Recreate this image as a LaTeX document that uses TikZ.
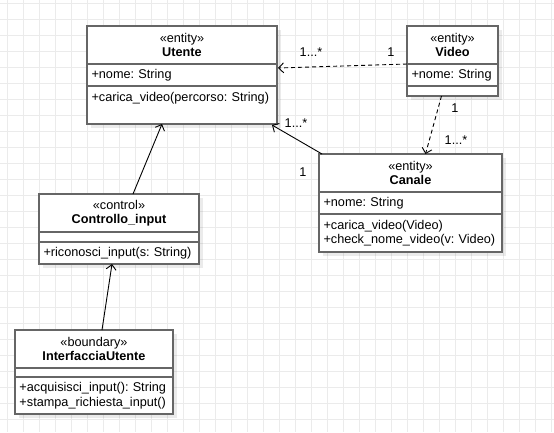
\documentclass[tikz,border=0pt]{standalone}
\usepackage{fontspec}
\setmainfont{Liberation Sans}
\frenchspacing
\usetikzlibrary{
    arrows.meta,
    calc,
    positioning,
    shadows
}
\definecolor{boxgrey}{HTML}{666666}
\definecolor{gridgrey}{HTML}{EBEBEB}
\tikzset{
    every picture/.style = {
        > = {Straight Barb[length = 5pt, width = 10pt]},
        x = 1pt,
        y = -1pt
    },
    boxshadow/.style = {
        drop shadow = {shadow xshift = 4pt, shadow yshift = -4pt, fill = black, opacity = 0.08}
    },
    classhead/.style = {
        draw = boxgrey,
        line width = 1.5pt,
        fill = white,
        inner sep = 0pt,
        outer sep = 0pt,
        minimum width = #1,
        minimum height = 38pt,
        align = center,
        boxshadow
    },
    classpart/.style = {
        draw = boxgrey,
        line width = 1.5pt,
        fill = white,
        inner xsep = 4.5pt,
        inner ysep = 0pt,
        outer sep = 0pt,
        text width = #1,
        align = left,
        boxshadow
    },
    assoc/.style = {->, line width = 0.9pt},
    depend/.style = {->, line width = 0.9pt, dash pattern = on 4pt off 3pt},
    mult/.style = {inner sep = 0pt}
}

\begin{document}
\begin{tikzpicture}[node font = {\fontsize{12.7}{14.5}\selectfont}]
    \fill[white] (0, 0) rectangle (554, 432);
    \useasboundingbox (0, 0) rectangle (554, 432);
    \draw[gridgrey, line width = 0.8pt, xstep = 16pt, ystep = 16pt, shift = {(7, 3)}] (-7, -3) grid (547, 429);

    \node[classhead = 190pt, anchor = north west] (utente-head) at (87, 26) {«entity»\\\textbf{Utente}};
    \node[classpart = 181pt, minimum height = 22pt, below = 0pt of utente-head] (utente-attr) {+nome: String};
    \node[classpart = 181pt, minimum height = 38pt, text depth = 17pt, below = 0pt of utente-attr] (utente-ops) {+carica\_video(percorso: String)};

    \node[classhead = 91pt, anchor = north west] (video-head) at (407, 26) {«entity»\\\textbf{Video}};
    \node[classpart = 82pt, minimum height = 22pt, below = 0pt of video-head] (video-attr) {+nome: String};
    \node[classpart = 82pt, minimum height = 10pt, below = 0pt of video-attr] (video-ops) {};

    \node[classhead = 183pt, anchor = north west] (canale-head) at (319, 154) {«entity»\\\textbf{Canale}};
    \node[classpart = 174pt, minimum height = 22pt, below = 0pt of canale-head] (canale-attr) {+nome: String};
    \node[classpart = 174pt, minimum height = 38pt, below = 0pt of canale-attr] (canale-ops) {+carica\_video(Video)\\+check\_nome\_video(v: Video)};

    \node[classhead = 160pt, anchor = north west] (controllo-head) at (39, 194) {«control»\\\textbf{Controllo\_input}};
    \node[classpart = 151pt, minimum height = 10pt, below = 0pt of controllo-head] (controllo-attr) {};
    \node[classpart = 151pt, minimum height = 22pt, below = 0pt of controllo-attr] (controllo-ops) {+riconosci\_input(s: String)};

    \node[classhead = 158pt, anchor = north west] (interfaccia-head) at (15, 330) {«boundary»\\\textbf{InterfacciaUtente}};
    \node[classpart = 149pt, minimum height = 9pt, below = 0pt of interfaccia-head] (interfaccia-attr) {};
    \node[classpart = 149pt, minimum height = 37pt, below = 0pt of interfaccia-attr] (interfaccia-ops) {+acquisisci\_input(): String\\+stampa\_richiesta\_input()};

    \draw[depend] (video-attr.north west) -- ($(utente-attr.north east) + (1, 4)$);
    \draw[depend] ($(video-ops.south) + (-11, 0)$) -- ($(canale-head.north) + (15, 0)$);
    \draw[assoc] ($(canale-head.north west) + (3, 0)$) -- ($(utente-ops.south east) + (-5, 1)$);
    \draw[assoc] ($(controllo-head.north) + (14, 0)$) -- ($(utente-ops.south) + (-20, 0)$);
    \draw[assoc] ($(interfaccia-head.north) + (8, 0)$) -- ($(controllo-ops.south) + (-7, 0)$);

    \node[mult] (m-utente-video) at (311, 52) {1...*};
    \node[mult] (m-video-utente) at (391, 52) {1};
    \node[mult] (m-video-canale) at (455, 108) {1};
    \node[mult] (m-canale-video) at (456, 140) {1...*};
    \node[mult] (m-utente-canale) at (296, 123) {1...*};
    \node[mult] (m-canale-utente) at (303, 172) {1};
\end{tikzpicture}
\end{document}
